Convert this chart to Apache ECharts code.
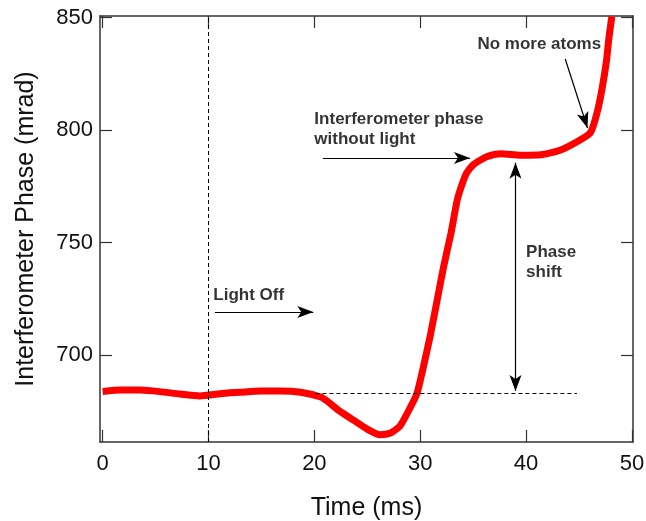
<!DOCTYPE html>
<html>
<head>
<meta charset="utf-8">
<script src="https://cdn.jsdelivr.net/npm/echarts@6/dist/echarts.min.js"></script>
<style>
  html, body { margin: 0; padding: 0; background: #fff; }
  #chart { width: 646px; height: 521px; }
</style>
</head>
<body>
<div id="chart"></div>
<script>
// measured trace (time in ms, phase in mrad)
const timeMs = [0, 1.7, 3.6, 5.4, 7.3, 9.2, 11.1, 13.0, 14.9, 16.8, 18.7, 20.6, 21.2, 22.4, 23.7, 25.0, 26.2, 27.2, 28.1, 29.1, 29.7, 30.3, 31.0, 31.6, 32.2, 32.9, 33.5, 34.0, 34.4, 35.0, 35.7, 36.5, 37.6, 39.5, 41.4, 43.2, 45.1, 46.1, 46.7, 47.2, 47.6, 47.8, 48.1]
const phaseMrad = [683.8, 684.4, 684.4, 683.7, 682.6, 681.8, 682.8, 683.4, 684.0, 684.0, 683.4, 681.3, 679.5, 675, 671, 667, 664.5, 665.3, 668.5, 677, 683, 694.7, 709.8, 724.4, 739, 754, 769, 776.5, 781, 784.5, 786.7, 788.5, 789.5, 788.8, 789, 791, 795.6, 799, 807.6, 819, 831, 840, 850.5]

const xTicks = [0, 10, 20, 30, 40, 50]
const yTicks = [700, 750, 800, 850]

// annotations
const lightOffTime = 10
const baselinePhase = 683.1
const baselineFrom = 20.1
const baselineTo = 44.8
const noteText = ['Light Off', 'Interferometer phase\nwithout light', 'No more atoms', 'Phase\nshift']
const noteX = [10.45, 20.0, 35.4, 40.0]
const noteY = [726.7, 800.5, 838.2, 741]
// arrows: [x1, y1, x2, y2, doubleHeaded]
const arrows = [
  [10.6, 719.1, 19.9, 719.1, false],
  [20.8, 787.6, 34.7, 787.6, false],
  [43.7, 831.6, 45.8, 800.9, false],
  [39.0, 785.5, 39.0, 684.0, true]
]

const chart = echarts.init(document.getElementById('chart'))
const font = 'Arial, "Liberation Sans", sans-serif'
const axisColor = '#333'

const frameAxis = (extra) => Object.assign({
  type: 'value',
  axisLine: { show: true, onZero: false, lineStyle: { color: axisColor, width: 1.5 } },
  splitLine: { show: false }
}, extra)

const ticks = (values) => ({
  show: true, inside: true, length: 12, customValues: values,
  lineStyle: { color: axisColor, width: 1.2 }
})

const arrowLines = arrows.map(a => [
  { coord: [a[0], a[1]], symbol: a[4] ? 'arrow' : 'none', symbolSize: [9, 16] },
  { coord: [a[2], a[3]], symbol: 'arrow', symbolSize: [9, 16] }
])

const option = {
  animation: false,
  backgroundColor: '#fff',
  grid: { left: 100, right: 13, top: 16, bottom: 79, outerBoundsMode: 'none', containLabel: false },
  xAxis: [
    frameAxis({
      min: -0.25, max: 50.1,
      name: 'Time (ms)', nameLocation: 'middle', nameGap: 54,
      nameTextStyle: { fontFamily: font, fontSize: 25, color: '#111' },
      axisTick: ticks(xTicks),
      axisLabel: { customValues: xTicks, fontFamily: font, fontSize: 22, color: '#111', margin: 11 }
    }),
    frameAxis({
      min: -0.25, max: 50.1, position: 'top',
      axisTick: ticks(xTicks),
      axisLabel: { show: false }
    })
  ],
  yAxis: [
    frameAxis({
      min: 661.3, max: 850.7,
      name: 'Interferometer Phase (mrad)', nameLocation: 'middle', nameGap: 61,
      nameTextStyle: { fontFamily: font, fontSize: 25, color: '#111' },
      axisTick: ticks(yTicks),
      axisLabel: { customValues: yTicks, fontFamily: font, fontSize: 22, color: '#111', margin: 7 }
    }),
    frameAxis({
      min: 661.3, max: 850.7, position: 'right',
      axisTick: ticks(yTicks),
      axisLabel: { show: false }
    })
  ],
  series: [
    {
      name: 'phase',
      type: 'line',
      data: timeMs.map((t, i) => [t, phaseMrad[i]]),
      showSymbol: false,
      smooth: 0.2,
      clip: true,
      lineStyle: { color: '#ff0000', width: 7 },
      z: 3,
      markLine: {
        silent: true,
        symbol: 'none',
        label: { show: false },
        lineStyle: { color: '#000', width: 1, type: [4, 3] },
        data: [
          { xAxis: lightOffTime },
          [{ coord: [baselineFrom, baselinePhase] }, { coord: [baselineTo, baselinePhase] }]
        ]
      }
    },
    {
      name: 'notes',
      type: 'scatter',
      data: noteX.map((x, i) => [x, noteY[i]]),
      symbolSize: 0,
      silent: true,
      label: {
        show: true,
        position: 'right',
        distance: 0,
        formatter: p => noteText[p.dataIndex],
        fontFamily: font,
        fontWeight: 'bold',
        fontSize: 17,
        lineHeight: 20,
        color: '#000'
      },
      markLine: {
        silent: true,
        label: { show: false },
        lineStyle: { color: '#000', width: 1.2, type: 'solid' },
        itemStyle: { color: '#000' },
        data: arrowLines
      }
    }
  ]
}

chart.setOption(option)
</script>
</body>
</html>
